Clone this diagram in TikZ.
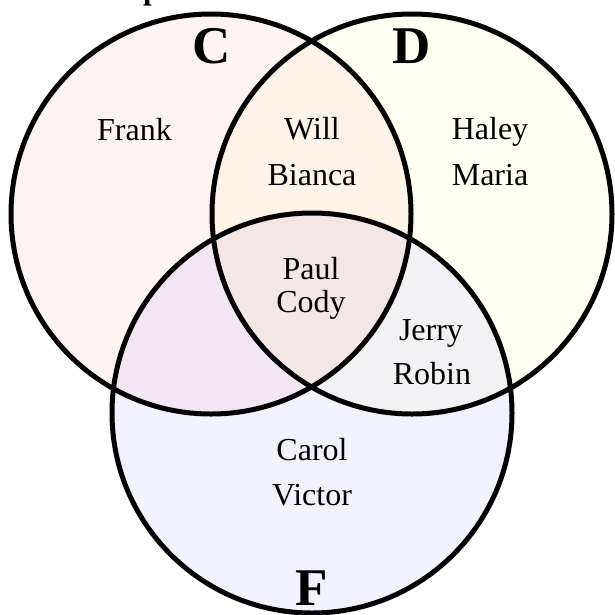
\documentclass[tikz,border=0pt]{standalone}
\usepackage{fontspec}
\setmainfont{Liberation Serif}
\begin{document}
\begin{tikzpicture}[x=1pt,y=-1pt,
  person/.style={font=\fontsize{32}{36}\selectfont, anchor=base, inner sep=0pt},
  setlabel/.style={font=\bfseries\fontsize{53}{60}\selectfont, anchor=base, inner sep=0pt},
  ring/.style={line width=5pt, draw=black}]
\useasboundingbox (0,0) rectangle (615,614);
\coordinate (cC) at (211,214);
\coordinate (cD) at (412,214);
\coordinate (cF) at (312,413);
\fill[red, fill opacity=0.05] (cC) circle[radius=200];
\fill[yellow, fill opacity=0.05] (cD) circle[radius=200];
\fill[blue, fill opacity=0.05] (cF) circle[radius=200];
\draw[ring] (cC) circle[radius=200];
\draw[ring] (cD) circle[radius=200];
\draw[ring] (cF) circle[radius=200];
% cut-off title fragment
\node[font=\bfseries\fontsize{31}{36}\selectfont, anchor=base west, inner sep=0pt] (title) at (143,-1) {p};
% set labels
\node[setlabel] (lC) at (212,63) {C};
\node[setlabel] (lD) at (412,63) {D};
\node[setlabel] (lF) at (312,605) {F};
% members
\node[person] (frank) at (134.5,140) {Frank};
\node[person] (will) at (312,139) {Will};
\node[person] (bianca) at (312,185) {Bianca};
\node[person] (haley) at (490,139) {Haley};
\node[person] (maria) at (490,185) {Maria};
\node[person] (paul) at (311,279) {Paul};
\node[person] (cody) at (311,312) {Cody};
\node[person] (jerry) at (431,340) {Jerry};
\node[person] (robin) at (432,384) {Robin};
\node[person] (carol) at (312,460) {Carol};
\node[person] (victor) at (312,505) {Victor};
\end{tikzpicture}
\end{document}
